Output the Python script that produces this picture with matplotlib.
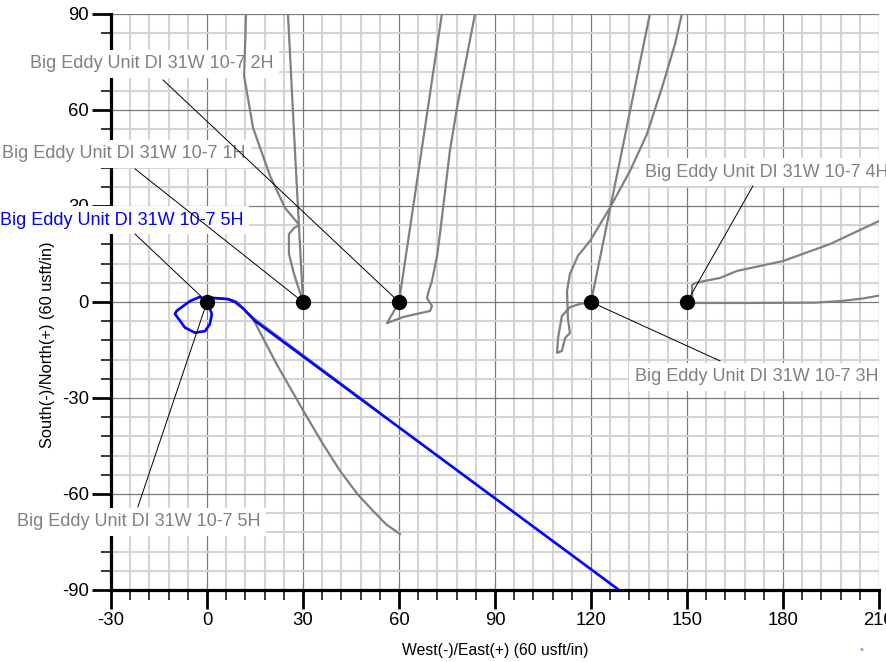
import matplotlib
matplotlib.use("Agg")
import matplotlib.pyplot as plt
from matplotlib.ticker import MultipleLocator, FuncFormatter

plt.rcParams['font.family'] = ['Liberation Sans', 'DejaVu Sans']
plt.rcParams['axes.unicode_minus'] = False

# ---- data (usft) ----
wells_x = [0, 30, 60, 120, 150]
wells_y = [0, 0, 0, 0, 0]

# 1H
h1_straight_x = [30, 27.6, 25.3]
h1_straight_y = [0, 45, 90]
h1_curve_x = [30, 27.2, 25.6, 25.6, 27.2, 28.8, 24.4, 19.7, 14.4, 11.6, 12.2]
h1_curve_y = [0, 8.75, 15.0, 21.25, 23.1, 24.1, 29.4, 39.4, 54.4, 70.6, 90]

# 2H
h2_straight_x = [60, 66.7, 73.4]
h2_straight_y = [0, 45, 90]
h2_curve_x = [60, 58.1, 56.25, 61.25, 69.7, 70.3, 68.75, 69.1, 70.3, 71.9, 72.8, 75.9, 78.1, 80.6, 83.75]
h2_curve_y = [0, -3.4, -6.6, -4.7, -2.8, -1.25, 1.25, 2.8, 6.6, 14.4, 21.25, 47.2, 60.6, 73.75, 90]

# 3H
h3_straight_x = [120, 129.2, 138.4]
h3_straight_y = [0, 45, 90]
h3_curve_x = [120, 116.6, 113.4, 110.9, 109.7, 109.4, 110.9, 111.9, 113.4, 112.8, 112.5, 113.4, 115.9,
              119.7, 125.9, 132.2, 137.5, 142.5, 146.25, 148.4]
h3_curve_y = [0, -0.6, -1.6, -4.4, -11.25, -15.9, -15.3, -11.25, -9.7, -5.3, 3.4, 8.75, 14.4,
              19.1, 29.4, 41.0, 52.5, 68.0, 80.6, 90]

# 4H
h4_flat_x = [150, 152, 170, 190, 198, 205, 210]
h4_flat_y = [0, -0.3, -0.3, -0.2, 0.3, 1.1, 2.0]
h4_up_x = [150, 151.5, 151.6, 151.6, 152.5, 155.6, 160.3, 165.6, 180, 194.7, 210]
h4_up_y = [0, -1.0, 0.5, 5.3, 5.9, 6.6, 7.5, 9.7, 12.8, 18.1, 25.3]

# 5H (blue) and neighbouring gray paths
h5_x = [0, -2.2, -5.3, -9.5, -10, -8.4, -6.9, -3.75, -0.6, 0.9, 1.5, 0.6, 0,
        1.5, 6.6, 8.75, 11.4, 15.0, 128.75]
h5_y = [0, 1.6, 0.3, -2.8, -3.75, -5.9, -8.0, -9.6, -9.1, -6.9, -3.75, -1.25, 0,
        1.3, 0.9, 0.0, -2.1, -5.9, -90]
g1_x = [0, 1.5, 6.6, 9.4, 12.0, 14.4, 30.0, 54.0]
g1_y = [0, 1.3, 0.9, 0.0, -2.8, -4.9, -16.6, -34.6]
g2_x = [0, 1.5, 6.6, 9.4, 12.0, 14.4, 21.8, 30.1, 36.0, 41.6, 47.0, 51.9, 56.0, 60.3]
g2_y = [0, 1.3, 0.9, 0.0, -2.8, -5.3, -19.5, -34.0, -44.0, -52.8, -60.0, -65.3, -69.5, -72.5]

# labels: text, left x, centre y, leader start (x, y), leader end (x, y), colour
label_texts = ["Big Eddy Unit DI 31W 10-7 2H", "Big Eddy Unit DI 31W 10-7 1H",
               "Big Eddy Unit DI 31W 10-7 5H", "Big Eddy Unit DI 31W 10-7 4H",
               "Big Eddy Unit DI 31W 10-7 3H", "Big Eddy Unit DI 31W 10-7 5H"]
label_x = [-55.3, -64.0, -64.7, 136.9, 133.75, -59.4]
label_y = [74.4, 46.25, 25.6, 40.6, -23.4, -68.75]
leader_x0 = [-13.75, -22.5, -22.5, 170.6, 160.3, -21.6]
leader_y0 = [69.4, 41.6, 21.25, 36.25, -18.4, -64.0]
leader_x1 = [60, 30, 0, 150, 120, 0]
leader_y1 = [0, 0, 0, 0, 0, 0]
label_colors = ["#808080", "#808080", "#0000ff", "#808080", "#808080", "#808080"]

xlim = (-30, 210)
ylim = (-90, 90)

# ---- figure ----
fig = plt.figure(figsize=(8.87, 6.62), dpi=100)
ax = fig.add_axes([111 / 887, 1 - 590 / 662, (879 - 111) / 887, (590 - 14) / 662])
ax.set_xlim(*xlim)
ax.set_ylim(*ylim)

ax.xaxis.set_major_locator(MultipleLocator(30))
ax.yaxis.set_major_locator(MultipleLocator(30))
ax.xaxis.set_minor_locator(MultipleLocator(6))
ax.yaxis.set_minor_locator(MultipleLocator(6))
fmt = FuncFormatter(lambda v, p: "%d" % round(v))
ax.xaxis.set_major_formatter(fmt)
ax.yaxis.set_major_formatter(fmt)

ax.grid(which='minor', color='#d4d4d4', lw=1.5, zorder=0)
ax.grid(which='major', color='#7a7a7a', lw=0.9, zorder=0.5)
ax.set_axisbelow(True)

for s in ['top', 'right']:
    ax.spines[s].set_visible(False)
for s in ['left', 'bottom']:
    ax.spines[s].set_linewidth(2.3)
    ax.spines[s].set_color('black')

ax.tick_params(which='major', direction='out', length=14, width=2.0, labelsize=13.3, pad=2)
ax.tick_params(which='minor', direction='out', length=7, width=1.1)

# labels with white boxes
for t, lx, ly, c in zip(label_texts, label_x, label_y, label_colors):
    ax.text(lx, ly, t, color=c, fontsize=13, ha='left', va='center', zorder=10, clip_on=False,
            bbox=dict(facecolor='white', edgecolor='none', pad=4))

# trajectories
gray = '#808080'
for xs, ys in [(h1_straight_x, h1_straight_y), (h1_curve_x, h1_curve_y),
               (h2_straight_x, h2_straight_y), (h2_curve_x, h2_curve_y),
               (h3_straight_x, h3_straight_y), (h3_curve_x, h3_curve_y),
               (h4_flat_x, h4_flat_y), (h4_up_x, h4_up_y),
               (g1_x, g1_y), (g2_x, g2_y)]:
    ax.plot(xs, ys, color=gray, lw=1.6, zorder=11, solid_joinstyle='round')
ax.plot(h5_x, h5_y, color='#0000ff', lw=1.9, zorder=12, solid_joinstyle='round')

# leaders
for x0, y0, x1, y1 in zip(leader_x0, leader_y0, leader_x1, leader_y1):
    ax.plot([x0, x1], [y0, y1], color='black', lw=0.7, zorder=13, clip_on=False)

# wells
ax.plot(wells_x, wells_y, 'o', color='black', ms=10, zorder=14)

fig.text(495 / 887, 1 - 651 / 662, "West(-)/East(+) (60 usft/in)", ha='center', va='center', fontsize=11.3)
fig.text(48 / 887, 1 - 345 / 662, "South(-)/North(+) (60 usft/in)", ha='center', va='center',
         fontsize=11.8, rotation=90)
fig.text(862 / 887, 1 - 650 / 662, "\u2022", ha='center', va='center', fontsize=8, color='#9a9ae6')

fig.savefig("out.png", dpi=100)
